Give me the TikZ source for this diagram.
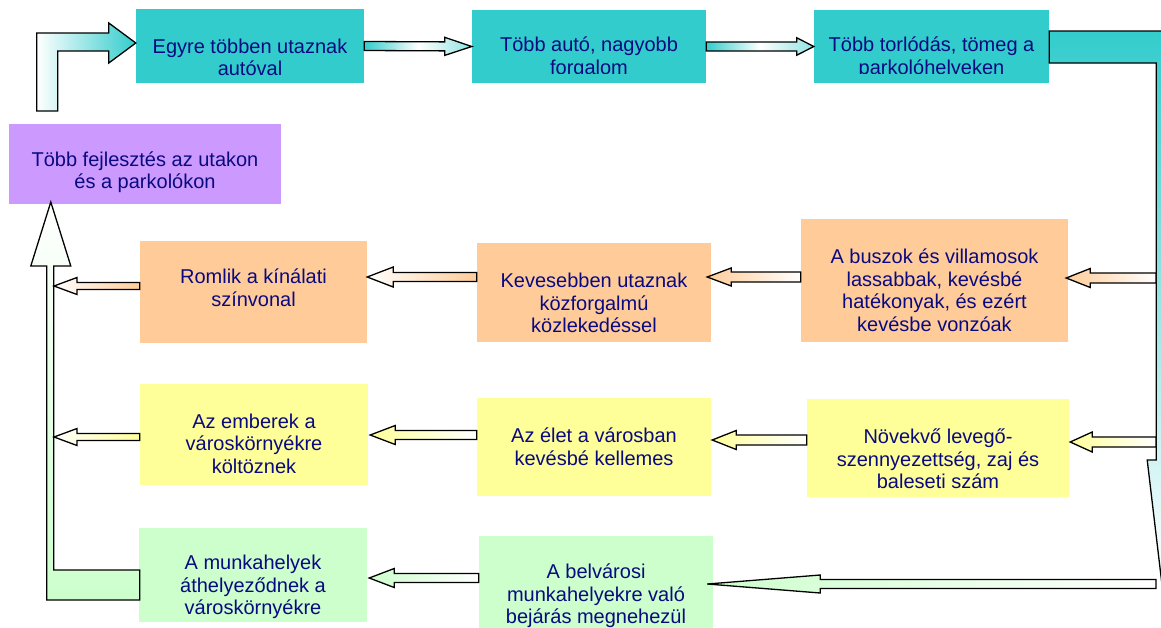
\documentclass[tikz,border=0pt]{standalone}
\usepackage{fontspec}
\setmainfont{Liberation Sans}
\usepackage{tikz}
\usetikzlibrary{calc}
\definecolor{boxcyan}{HTML}{33CCCC}
\definecolor{boxlilac}{HTML}{CC99FF}
\definecolor{boxpeach}{HTML}{FFCC99}
\definecolor{boxlemon}{HTML}{FFFF99}
\definecolor{boxmint}{HTML}{CCFFCC}
\definecolor{navytext}{RGB}{10,10,128}
\tikzset{
  panel/.style={rectangle, draw=none, fill=#1, inner sep=0pt},
  boxtext/.style={align=center, inner sep=0pt, text=navytext,
    font=\fontsize{20}{22.5}\selectfont},
  blockline/.style={draw=black, line width=1.3pt, line join=miter}
}
% block arrow: [shading]{tail}{tip}{shaft half}{head half}{head length}
\newcommand\blockarrow[6][]{%
  \path (#2) coordinate (ba-tail) (#3) coordinate (ba-tip);
  \path ($(ba-tip)!#6!(ba-tail)$) coordinate (ba-base);
  \draw[blockline,#1]
    ($(ba-tail)!#4!90:(ba-tip)$) -- ($(ba-base)!#4!90:(ba-tip)$)
    -- ($(ba-base)!#5!90:(ba-tip)$) -- (ba-tip)
    -- ($(ba-base)!#5!-90:(ba-tip)$) -- ($(ba-base)!#4!-90:(ba-tip)$)
    -- ($(ba-tail)!#4!-90:(ba-tip)$) -- cycle;
}
\begin{document}
\begin{tikzpicture}[x=1pt, y=-1pt]
  \useasboundingbox (0,0) rectangle (1161,627);
  \clip (0,0) rectangle (1161,627);

  % top row
  \node[panel=boxcyan, minimum width=228pt, minimum height=74pt] (more) at (250,46) {};
  \node[boxtext] (more-t) at ([yshift=-11.5pt]more.center) {Egyre többen utaznak\\autóval};
  \node[panel=boxcyan, minimum width=234pt, minimum height=73pt] (traffic) at (589,46.5) {};
  \begin{scope}
    \clip (traffic.north west) rectangle ([yshift=10pt]traffic.south east);
    \node[boxtext] (traffic-t) at ([yshift=-11pt]traffic.center) {Több autó, nagyobb\\forgalom};
  \end{scope}
  \node[panel=boxcyan, minimum width=235pt, minimum height=73pt] (jam) at (931.5,46.5) {};
  \begin{scope}
    \clip (jam.north west) rectangle ([yshift=10pt]jam.south east);
    \node[boxtext] (jam-t) at ([yshift=-11pt]jam.center) {Több torlódás, tömeg a\\parkolóhelyeken};
  \end{scope}

  \node[panel=boxlilac, minimum width=272pt, minimum height=80pt] (devel) at (145,164) {};
  \node[boxtext] (devel-t) at ([yshift=-8pt]devel.center) {Több fejlesztés az utakon\\és a parkolókon};

  % public transport row
  \node[panel=boxpeach, minimum width=227pt, minimum height=102pt] (decline) at (253.5,292) {};
  \node[boxtext] (decline-t) at ([yshift=4.5pt]decline.center) {Romlik a kínálati\\színvonal};
  \node[panel=boxpeach, minimum width=234pt, minimum height=99pt] (fewer) at (594,292.5) {};
  \node[boxtext] (fewer-t) at ([yshift=-10.5pt]fewer.center) {Kevesebben utaznak\\közforgalmú\\közlekedéssel};
  \node[panel=boxpeach, minimum width=267pt, minimum height=123pt] (buses) at (934.5,280.5) {};
  \node[boxtext] (buses-t) at ([yshift=-9.5pt]buses.center) {A buszok és villamosok\\lassabbak, kevésbé\\hatékonyak, és ezért\\kevésbe vonzóak};

  % living row
  \node[panel=boxlemon, minimum width=228pt, minimum height=101pt] (suburb) at (254,434.5) {};
  \node[boxtext] (suburb-t) at ([yshift=-9pt]suburb.center) {Az emberek a\\városkörnyékre\\költöznek};
  \node[panel=boxlemon, minimum width=234pt, minimum height=98pt] (life) at (594,447) {};
  \node[boxtext] (life-t) at ([yshift=0.5pt]life.center) {Az élet a városban\\kevésbé kellemes};
  \node[panel=boxlemon, minimum width=262pt, minimum height=98pt] (pollution) at (938,448) {};
  \node[boxtext] (pollution-t) at ([yshift=-11pt]pollution.center) {Növekvő levegő-\\szennyezettség, zaj és\\baleseti szám};

  % jobs row
  \node[panel=boxmint, minimum width=228pt, minimum height=94pt] (jobs) at (253,575) {};
  \node[boxtext] (jobs-t) at ([yshift=-12pt]jobs.center) {A munkahelyek\\áthelyeződnek a\\városkörnyékre};
  \node[panel=boxmint, minimum width=234pt, minimum height=104pt] (commute) at (596,588) {};
  \node[boxtext] (commute-t) at ([yshift=-8pt]commute.center) {A belvárosi\\munkahelyekre való\\bejárás megnehezül};

  % bent arrows
  \draw[blockline, left color=white, right color=boxcyan]
    ($(more.west)+(0,-3)$) -- ++(-27,-20) -- ++(0,10) -- ++(-72,0) -- ++(0,78)
    -- ++(21,0) -- ++(0,-60) -- ++(51,0) -- ++(0,12) -- cycle;
  \draw[blockline, top color=boxcyan, bottom color=white]
    ($(jam.east)+(0,-15.5)$) -- ++(117,0) -- ++(0,429) -- ++(9,0) -- ++(-14,118)
    -- ++(-14,-118) -- ++(9,0) -- ++(0,-397) -- ++(-107,0) -- cycle;
  \draw[blockline, top color=white, bottom color=boxmint]
    ($(jobs.west)+(1,-5)$) -- ++(0,30) -- ++(-93,0) -- ++(0,-334) -- ++(-16,0)
    -- ++(20,-64) -- ++(20,64) -- ++(-17,0) -- ++(0,304) -- cycle;
  \coordinate (rbar) at (1156,300);
  \coordinate (lbar) at (54,300);

  % straight arrows
  \blockarrow[left color=boxcyan, right color=boxcyan!55, middle color=white]{more.east}{traffic.west}{4.5pt}{9pt}{27pt}
  \blockarrow[left color=boxcyan, right color=boxcyan!55, middle color=white]{traffic.east}{jam.west}{4.5pt}{8.7pt}{17pt}

  \blockarrow[left color=boxpeach, right color=white]{$(buses.east -| rbar)+(0,-2.5)$}{$(buses.east)+(-2,-2.5)$}{5pt}{9.5pt}{24pt}
  \blockarrow[left color=boxpeach, right color=white]{$(buses.west)+(0,-3.5)$}{$(fewer.east)+(-4,-15.5)$}{5pt}{9pt}{24pt}
  \blockarrow[left color=white, right color=boxpeach]{$(fewer.west)+(0,-15.5)$}{$(decline.east)+(0,-15)$}{4.5pt}{10pt}{26pt}
  \blockarrow[left color=white, right color=boxpeach]{$(decline.west)+(0,-6)$}{$(decline.west -| lbar)+(0,-6)$}{3.5pt}{8.5pt}{23pt}

  \blockarrow[left color=boxlemon, right color=white]{$(pollution.east -| rbar)+(0,-6)$}{$(pollution.east)+(1,-6)$}{5pt}{10pt}{22pt}
  \blockarrow[left color=boxlemon, right color=white]{$(pollution.west)+(0,-8)$}{$(life.east)+(1,-7)$}{5pt}{9.5pt}{24pt}
  \blockarrow[left color=boxlemon, right color=white]{$(life.west)+(0,-12)$}{$(suburb.east)+(2,0.5)$}{4.5pt}{9.5pt}{25pt}
  \blockarrow[left color=white, right color=boxlemon]{$(suburb.west)+(0,2.5)$}{$(suburb.west -| lbar)+(0,2.5)$}{3.5pt}{8.5pt}{23pt}

  \blockarrow[left color=boxmint, right color=white]{$(commute.east -| rbar)+(0,-4)$}{$(commute.east)+(-6,-4)$}{4.5pt}{9pt}{113pt}
  \blockarrow[left color=boxmint, right color=white]{$(commute.west)+(0,-10)$}{$(jobs.east)+(2,3)$}{4.5pt}{9.5pt}{25pt}
\end{tikzpicture}
\end{document}
